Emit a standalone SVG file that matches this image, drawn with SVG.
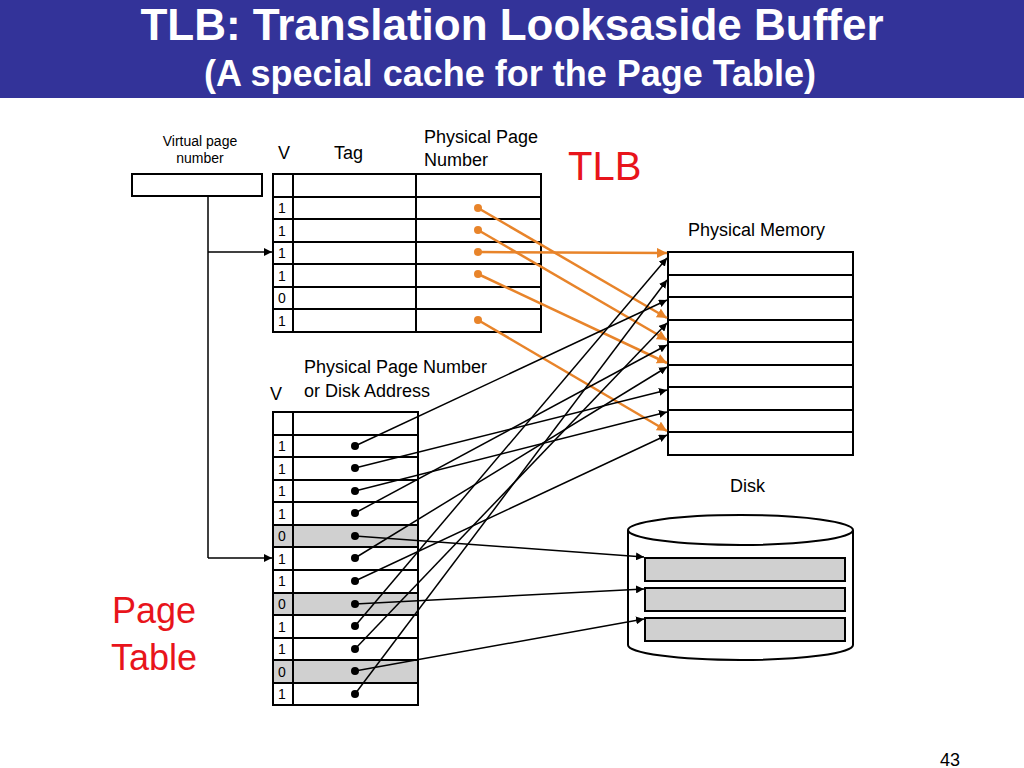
<svg xmlns="http://www.w3.org/2000/svg" width="1024" height="768" viewBox="0 0 1024 768">
<defs>
<style>
text{font-family:"Liberation Sans",Arial,sans-serif;fill:#000}
.c{stroke:#000;stroke-width:2;fill:#fff}
.g{stroke:#000;stroke-width:2;fill:#d0d0d0}
.v{font-size:14px}
.k{stroke:#000;stroke-width:1.5;fill:none}
.o{stroke:#E8842A;stroke-width:2.5;fill:none}
</style>
<marker id="ak" viewBox="0 0 10 10" refX="10" refY="5" markerWidth="8" markerHeight="8" markerUnits="userSpaceOnUse" orient="auto"><path d="M0,0L10,5L0,10z" fill="#000"/></marker>
<marker id="ao" viewBox="0 0 10 10" refX="10" refY="5" markerWidth="10" markerHeight="10" markerUnits="userSpaceOnUse" orient="auto"><path d="M0,0L10,5L0,10z" fill="#E8842A"/></marker>
</defs>
<rect x="0" y="0" width="1024" height="98" fill="#333399"/>
<text x="512" y="40" text-anchor="middle" font-size="44" font-weight="bold" style="fill:#fff">TLB: Translation Looksaside Buffer</text>
<text x="510" y="86" text-anchor="middle" font-size="36" font-weight="bold" style="fill:#fff">(A special cache for the Page Table)</text>

<g id="vpn">
<text x="200" y="146" text-anchor="middle" font-size="14">Virtual page</text>
<text x="200" y="163" text-anchor="middle" font-size="14">number</text>
<rect class="c" x="132" y="174" width="130" height="22"/>
</g>

<g id="tlb">
<text x="278" y="159" font-size="18">V</text>
<text x="334" y="159" font-size="18">Tag</text>
<text x="424" y="143" font-size="18">Physical Page</text>
<text x="424" y="166" font-size="18">Number</text>
<text x="568" y="180" font-size="40" style="fill:#e8141b">TLB</text>
<g>
<rect class="c" x="273" y="174" width="20" height="23"/><rect class="c" x="293" y="174" width="123" height="23"/><rect class="c" x="416" y="174" width="125" height="23"/>
<rect class="c" x="273" y="197" width="20" height="22"/><rect class="c" x="293" y="197" width="123" height="22"/><rect class="c" x="416" y="197" width="125" height="22"/>
<rect class="c" x="273" y="219" width="20" height="23"/><rect class="c" x="293" y="219" width="123" height="23"/><rect class="c" x="416" y="219" width="125" height="23"/>
<rect class="c" x="273" y="242" width="20" height="22"/><rect class="c" x="293" y="242" width="123" height="22"/><rect class="c" x="416" y="242" width="125" height="22"/>
<rect class="c" x="273" y="264" width="20" height="23"/><rect class="c" x="293" y="264" width="123" height="23"/><rect class="c" x="416" y="264" width="125" height="23"/>
<rect class="c" x="273" y="287" width="20" height="22"/><rect class="c" x="293" y="287" width="123" height="22"/><rect class="c" x="416" y="287" width="125" height="22"/>
<rect class="c" x="273" y="309" width="20" height="23"/><rect class="c" x="293" y="309" width="123" height="23"/><rect class="c" x="416" y="309" width="125" height="23"/>
</g>
<text class="v" x="278" y="213">1</text><text class="v" x="278" y="236">1</text><text class="v" x="278" y="258">1</text>
<text class="v" x="278" y="281">1</text><text class="v" x="278" y="303">0</text><text class="v" x="278" y="326">1</text>
<g fill="#E8842A"><circle cx="478" cy="208" r="4"/><circle cx="478" cy="230" r="4"/><circle cx="478" cy="252" r="4"/><circle cx="478" cy="274" r="4"/><circle cx="478" cy="320" r="4"/></g>
</g>

<g id="pagetable">
<text x="304" y="373" font-size="18">Physical Page Number</text>
<text x="304" y="397" font-size="18">or Disk Address</text>
<text x="270" y="400" font-size="18">V</text>
<rect class="c" x="273" y="412" width="20" height="23"/><rect class="c" x="293" y="412" width="125" height="23"/>
<rect class="c" x="273" y="435" width="20" height="22"/><rect class="c" x="293" y="435" width="125" height="22"/>
<rect class="c" x="273" y="457" width="20" height="23"/><rect class="c" x="293" y="457" width="125" height="23"/>
<rect class="c" x="273" y="480" width="20" height="22"/><rect class="c" x="293" y="480" width="125" height="22"/>
<rect class="c" x="273" y="502" width="20" height="23"/><rect class="c" x="293" y="502" width="125" height="23"/>
<rect class="g" x="273" y="525" width="20" height="22"/><rect class="g" x="293" y="525" width="125" height="22"/>
<rect class="c" x="273" y="547" width="20" height="23"/><rect class="c" x="293" y="547" width="125" height="23"/>
<rect class="c" x="273" y="570" width="20" height="23"/><rect class="c" x="293" y="570" width="125" height="23"/>
<rect class="g" x="273" y="593" width="20" height="22"/><rect class="g" x="293" y="593" width="125" height="22"/>
<rect class="c" x="273" y="615" width="20" height="23"/><rect class="c" x="293" y="615" width="125" height="23"/>
<rect class="c" x="273" y="638" width="20" height="22"/><rect class="c" x="293" y="638" width="125" height="22"/>
<rect class="g" x="273" y="660" width="20" height="23"/><rect class="g" x="293" y="660" width="125" height="23"/>
<rect class="c" x="273" y="683" width="20" height="22"/><rect class="c" x="293" y="683" width="125" height="22"/>
<text class="v" x="278" y="451">1</text><text class="v" x="278" y="474">1</text><text class="v" x="278" y="496">1</text>
<text class="v" x="278" y="519">1</text><text class="v" x="278" y="541">0</text><text class="v" x="278" y="564">1</text>
<text class="v" x="278" y="586">1</text><text class="v" x="278" y="609">0</text><text class="v" x="278" y="632">1</text>
<text class="v" x="278" y="654">1</text><text class="v" x="278" y="677">0</text><text class="v" x="278" y="699">1</text>
<g fill="#000"><circle cx="355" cy="446" r="4"/><circle cx="355" cy="468" r="4"/><circle cx="355" cy="491" r="4"/><circle cx="355" cy="513" r="4"/><circle cx="355" cy="536" r="4"/><circle cx="355" cy="558" r="4"/><circle cx="355" cy="581" r="4"/><circle cx="355" cy="604" r="4"/><circle cx="355" cy="626" r="4"/><circle cx="355" cy="649" r="4"/><circle cx="355" cy="671" r="4"/><circle cx="355" cy="694" r="4"/></g>
<text x="154" y="623" text-anchor="middle" font-size="36" style="fill:#e8141b">Page</text>
<text x="154" y="670" text-anchor="middle" font-size="36" style="fill:#e8141b">Table</text>
</g>

<g id="memory">
<text x="688" y="236" font-size="18">Physical Memory</text>
<rect class="c" x="668" y="252" width="185" height="23"/><rect class="c" x="668" y="275" width="185" height="22"/>
<rect class="c" x="668" y="297" width="185" height="23"/><rect class="c" x="668" y="320" width="185" height="22"/>
<rect class="c" x="668" y="342" width="185" height="23"/><rect class="c" x="668" y="365" width="185" height="22"/>
<rect class="c" x="668" y="387" width="185" height="23"/><rect class="c" x="668" y="410" width="185" height="22"/>
<rect class="c" x="668" y="432" width="185" height="23"/>
</g>

<g id="disk">
<text x="730" y="492" font-size="18">Disk</text>
<path d="M628,530 L628,645 A112.5,15 0 0 0 853,645 L853,530" class="c"/>
<ellipse cx="740.5" cy="530" rx="112.5" ry="15" class="c"/>
<rect class="g" x="645" y="558" width="200" height="23"/>
<rect class="g" x="645" y="588" width="200" height="23"/>
<rect class="g" x="645" y="618" width="200" height="23"/>
</g>

<g id="connectors">
<path class="k" d="M208,196 L208,558"/>
<path class="k" d="M208,252 L272,252" marker-end="url(#ak)"/>
<path class="k" d="M208,558 L272,558" marker-end="url(#ak)"/>
<path class="o" d="M478,208 L667,318" marker-end="url(#ao)"/>
<path class="o" d="M478,230 L667,340" marker-end="url(#ao)"/>
<path class="o" d="M478,252 L667,253" marker-end="url(#ao)"/>
<path class="o" d="M478,274 L667,363" marker-end="url(#ao)"/>
<path class="o" d="M478,320 L667,431" marker-end="url(#ao)"/>
<path class="k" d="M355,446 L667,300" marker-end="url(#ak)"/>
<path class="k" d="M355,468 L667,390" marker-end="url(#ak)"/>
<path class="k" d="M355,491 L667,412" marker-end="url(#ak)"/>
<path class="k" d="M355,513 L667,345" marker-end="url(#ak)"/>
<path class="k" d="M355,558 L667,367" marker-end="url(#ak)"/>
<path class="k" d="M355,581 L667,435" marker-end="url(#ak)"/>
<path class="k" d="M355,626 L667,258" marker-end="url(#ak)"/>
<path class="k" d="M355,649 L667,323" marker-end="url(#ak)"/>
<path class="k" d="M355,694 L667,280" marker-end="url(#ak)"/>
<path class="k" d="M355,536 L644,557" marker-end="url(#ak)"/>
<path class="k" d="M355,604 L644,589" marker-end="url(#ak)"/>
<path class="k" d="M355,671 L644,619" marker-end="url(#ak)"/>
</g>
<text x="940" y="766" font-size="18">43</text>
</svg>
